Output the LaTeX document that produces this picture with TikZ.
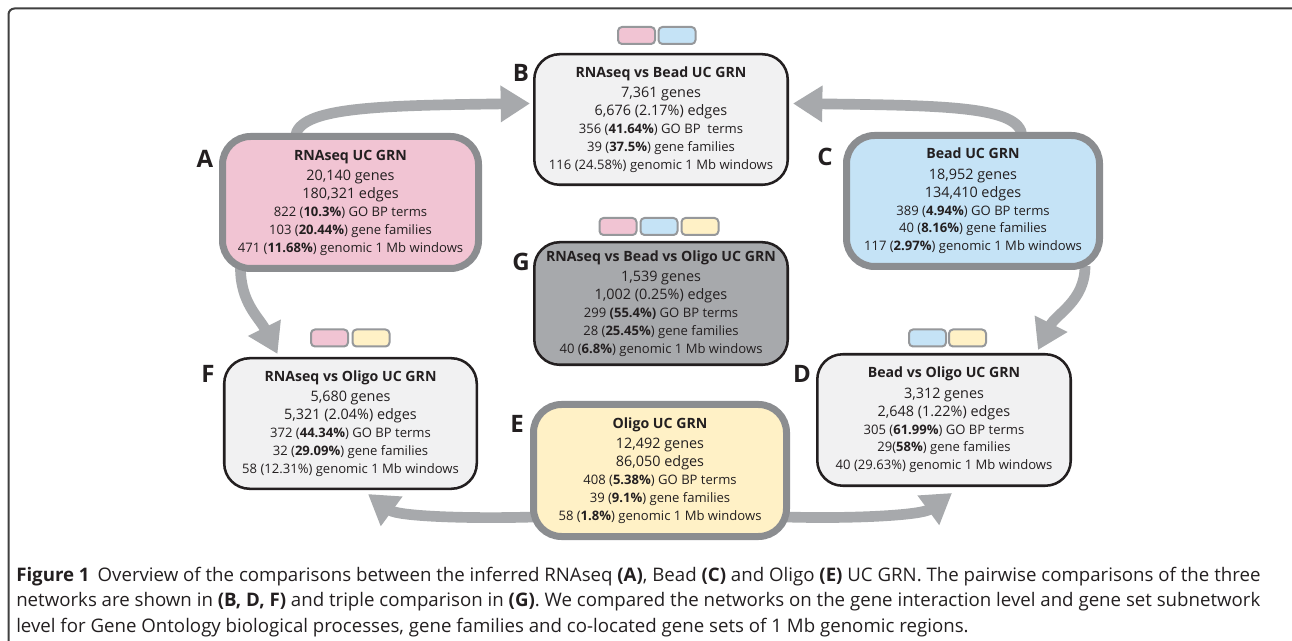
\documentclass[tikz,border=0pt]{standalone}
\usepackage{fontspec}
\setmainfont{Open Sans}
\usetikzlibrary{arrows.meta}
\pgfdeclarelayer{bg}
\pgfsetlayers{bg,main}
\definecolor{pinkf}{RGB}{241,196,211}
\definecolor{bluef}{RGB}{197,227,246}
\definecolor{yellowf}{RGB}{255,241,198}
\definecolor{lightf}{RGB}{241,241,242}
\definecolor{gfill}{RGB}{167,169,172}
\definecolor{thickgray}{RGB}{139,141,144}
\definecolor{arrowgray}{RGB}{167,169,172}
\definecolor{chipgray}{RGB}{150,152,155}
\definecolor{ink}{RGB}{35,31,32}
\definecolor{framegray}{RGB}{64,64,64}
\newcommand{\ttlfont}{\fontsize{10.6}{13.4}\selectfont\bfseries}
\newcommand{\bigfont}{\fontsize{10.8}{13.4}\selectfont}
\newcommand{\smlfont}{\fontsize{9.8}{13.4}\selectfont}
\newcommand{\boxlines}[6]{{\ttlfont #1}\\[2pt]{\bigfont #2}\\{\bigfont #3}\\{\smlfont #4}\\{\smlfont #5}\\{\smlfont #6}}
\begin{document}
\begin{tikzpicture}[x=0.75pt,y=-0.75pt,
  thickbox/.style={draw=thickgray, line width=5.25pt, rounded corners=21pt, inner sep=0pt, align=center, text=ink, font=\smlfont},
  thinbox/.style={draw=ink, line width=1.9pt, rounded corners=19pt, fill=lightf, inner sep=0pt, align=center, text=ink, font=\smlfont},
  chip/.style={draw=chipgray, line width=1.5pt, rounded corners=3pt, minimum width=27.75pt, minimum height=12.75pt, inner sep=0pt},
  lbl/.style={font=\fontsize{18}{20}\selectfont\bfseries, text=ink, inner sep=0pt},
  bigarrow/.style={draw=arrowgray, line width=8pt, -{Triangle[length=22pt,width=26pt]}}]
\useasboundingbox (0,0) rectangle (1292,641);
\begin{pgfonlayer}{bg}
\fill[white] (0,0) rectangle (1292,641);
\end{pgfonlayer}
\draw[framegray, line width=1.5pt, rounded corners=4.5pt] (1292,8.5) -- (8.5,8.5) -- (8.5,641);

% boxes
\node[thickbox, fill=pinkf, minimum width=192pt, minimum height=99pt] (A) at (350.5,202.5)
  {\boxlines{RNAseq UC GRN}{20,140 genes}{180,321 edges}{822 (\textbf{10.3\%}) GO BP terms}{103 (\textbf{20.44\%}) gene families}{471 (\textbf{11.68\%}) genomic 1 Mb windows}};
\node[thickbox, fill=bluef, minimum width=189.75pt, minimum height=98.25pt] (C) at (973,201)
  {\boxlines{Bead UC GRN}{18,952 genes}{134,410 edges}{389 (\textbf{4.94\%}) GO BP terms}{40 (\textbf{8.16\%}) gene families}{117 (\textbf{2.97\%}) genomic 1 Mb windows}};
\node[thickbox, fill=yellowf, minimum width=189.75pt, minimum height=99pt] (E) at (660,470.5)
  {\boxlines{Oligo UC GRN}{12,492 genes}{86,050 edges}{408 (\textbf{5.38\%}) GO BP terms}{39 (\textbf{9.1\%}) gene families}{58 (\textbf{1.8\%}) genomic 1 Mb windows}};
\node[thinbox, minimum width=190.1pt, minimum height=97.9pt] (B) at (661,119.5)
  {\boxlines{RNAseq vs Bead UC GRN}{7,361 genes}{6,676 (2.17\%) edges}{356 (\textbf{41.64\%}) GO BP\ \ terms}{39 (\textbf{37.5\%}) gene families}{116 (24.58\%) genomic 1 Mb windows}};
\node[thinbox, minimum width=190.1pt, minimum height=98.6pt] (D) at (944,420)
  {\boxlines{Bead vs Oligo UC GRN}{3,312 genes}{2,648 (1.22\%) edges}{305 (\textbf{61.99\%}) GO BP terms}{29(\textbf{58\%}) gene families}{40 (29.63\%) genomic 1 Mb windows}};
\node[thinbox, minimum width=189.4pt, minimum height=97.9pt] (F) at (350.5,423.5)
  {\boxlines{RNAseq vs Oligo UC GRN}{5,680 genes}{5,321 (2.04\%) edges}{372 (\textbf{44.34\%}) GO BP terms}{32 (\textbf{29.09\%}) gene families}{58 (12.31\%) genomic 1 Mb windows}};
\node[thinbox, fill=gfill, minimum width=190.1pt, minimum height=91.9pt] (G) at (661,303.5)
  {\boxlines{RNAseq vs Bead vs Oligo UC GRN}{1,539 genes}{1,002 (0.25\%) edges}{299 \textbf{(55.4\%)} GO BP terms}{28 (\textbf{25.45\%}) gene families}{40 (\textbf{6.8\%}) genomic 1 Mb windows}};

% letters
\node[lbl] (la) at (205,159) {A};
\node[lbl] (lb) at (521,73) {B};
\node[lbl] (lc) at (825,157) {C};
\node[lbl] (ld) at (802,374) {D};
\node[lbl] (le) at (517,424) {E};
\node[lbl] (lf) at (208,374) {F};
\node[lbl] (lg) at (521,262) {G};

% chips
\node[chip, fill=pinkf] (b1) at (636.5,35.5) {};
\node[chip, fill=bluef] (b2) at (677,35.5) {};
\node[chip, fill=pinkf] (g1) at (618,226.5) {};
\node[chip, fill=bluef] (g2) at (659,226.5) {};
\node[chip, fill=yellowf] (g3) at (700,226.5) {};
\node[chip, fill=pinkf] (f1) at (329.5,338) {};
\node[chip, fill=yellowf] (f2) at (371,338) {};
\node[chip, fill=bluef] (d1) at (927.5,338) {};
\node[chip, fill=yellowf] (d2) at (967.5,338) {};

% arrows
\begin{pgfonlayer}{bg}
\draw[bigarrow] ([shift={(-55,4)}]A.north) .. controls +(2,-30) and +(-150,2) .. ([shift={(-3,-16)}]B.west);
\draw[bigarrow] ([shift={(49,4)}]C.north) .. controls +(-2,-30) and +(150,2) .. ([shift={(4,-16)}]B.east);
\draw[bigarrow] ([shift={(-110,-4)}]A.south) .. controls +(0,35) and +(-18,-36) .. ([shift={(-73,-3)}]F.north);
\draw[bigarrow] ([shift={(112,-4)}]C.south) .. controls +(0,35) and +(18,-36) .. ([shift={(94,-3)}]D.north);
\draw[bigarrow] ([shift={(4,46.5)}]E.west) .. controls +(-70,2) and +(30,22) .. ([shift={(17.5,4)}]F.south);
\draw[bigarrow] ([shift={(-4,46.5)}]E.east) .. controls +(70,2) and +(-30,22) .. ([shift={(8,6)}]D.south);
\end{pgfonlayer}

% caption
\node[anchor=west, align=left, inner sep=0pt, text=ink, font=\fontsize{14}{19.2}\selectfont] (cap) at (16,602)
  {\textbf{Figure 1}\hspace{6pt}Overview of the comparisons between the inferred RNAseq \textbf{(A)}, Bead \textbf{(C)} and Oligo \textbf{(E)} UC GRN. The pairwise comparisons of the three\\networks are shown in \textbf{(B, D, F)} and triple comparison in \textbf{(G)}. We compared the networks on the gene interaction level and gene set subnetwork\\level for Gene Ontology biological processes, gene families and co-located gene sets of 1 Mb genomic regions.};
\end{tikzpicture}
\end{document}
